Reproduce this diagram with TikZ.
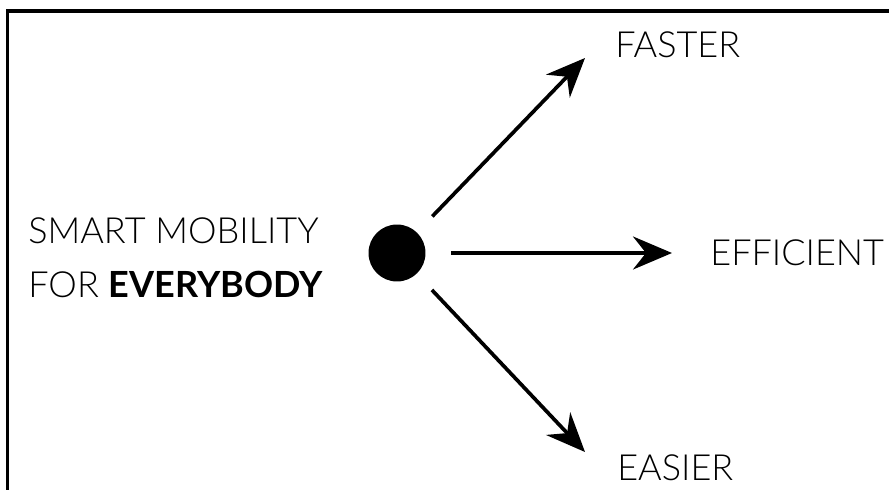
\documentclass[tikz,border=0pt]{standalone}
\usepackage{fontspec}
\setmainfont{Lato}[UprightFont=* Light, BoldFont=* Bold]
\usetikzlibrary{arrows.meta,positioning}

\begin{document}
\begin{tikzpicture}[
    x=0.02cm, y=-0.02cm,
    label/.style={
        inner sep=0pt,
        anchor=base west,
        align=left,
        font=\fontsize{20.5}{30.6}\selectfont
    },
    hub/.style={
        circle,
        fill=black,
        inner sep=0pt,
        minimum size=1.14cm
    },
    arrow/.style={-{Stealth[length=0.78cm, width=0.66cm, inset=0.26cm]}, draw=black, line width=2.1pt},
    frame/.style={draw=black, line width=2pt}
]

    % --- CANVAS ---
    \useasboundingbox (0,0) rectangle (889,490);
    \draw[frame] (7.5,491) -- (7.5,11) -- (890,11);

    % --- CENTRE ---
    \node[hub] (hub) at (397,253) {};
    \node[label] (title) at (28,297) {SMART MOBILITY\\FOR \textbf{EVERYBODY}};

    % --- TARGETS ---
    \node[label] (faster) at (615,57) {FASTER};
    \node[label] (efficient) at (710,265) {EFFICIENT};
    \node[label] (easier) at (617,480) {EASIER};

    \coordinate (tipfast) at (585,58);
    \coordinate (tipeff) at (672,253);
    \coordinate (tipeasy) at (585,452);

    % --- CONNECTIONS ---
    \draw[arrow, shorten <=12.5pt] (hub) -- (tipfast);
    \draw[arrow, shorten <=14.5pt] (hub) -- (tipeff);
    \draw[arrow, shorten <=12.5pt] (hub) -- (tipeasy);

\end{tikzpicture}
\end{document}
